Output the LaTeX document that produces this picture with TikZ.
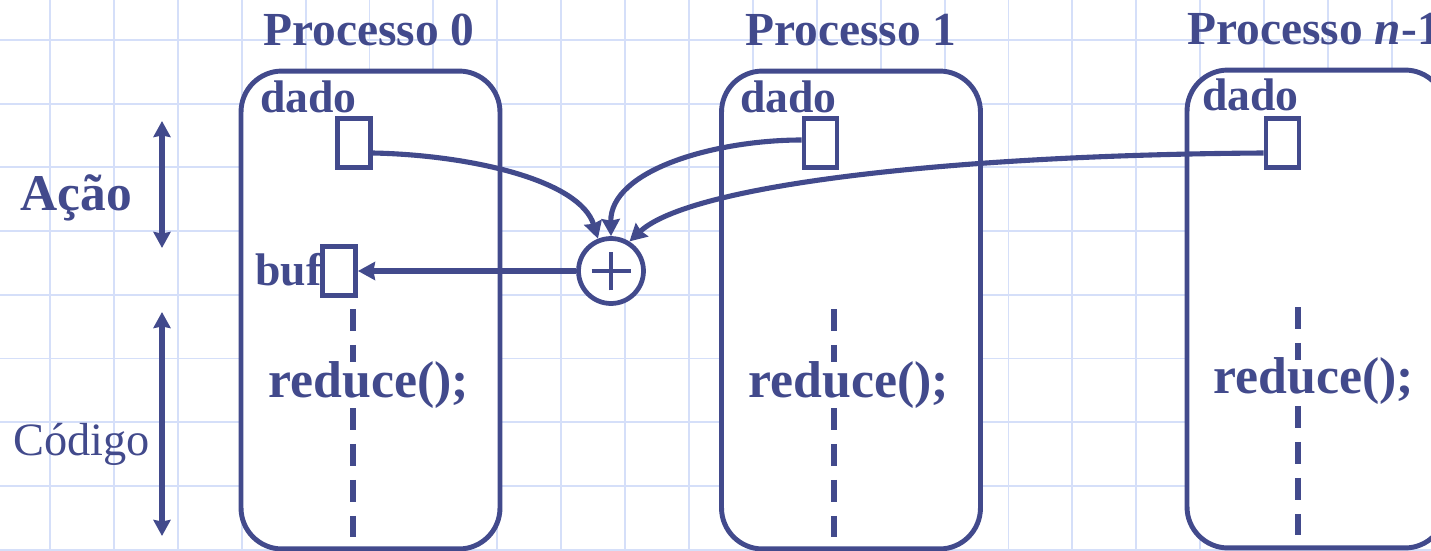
\documentclass[tikz,border=0pt]{standalone}
\usepackage{fontspec}
\setmainfont{Liberation Serif}
\usepackage{tikz}
\usetikzlibrary{arrows.meta,positioning,calc}
\usepackage{xcolor}
\definecolor{slideblue}{HTML}{424A8C}
\definecolor{slidegrid}{HTML}{D5DFF9}
\tikzset{
  gridline/.style={draw=slidegrid, line width=1.1pt},
  procbox/.style={draw=slideblue, line width=2.8pt, fill=white, rounded corners=0.82cm,
                  minimum width=5.18cm, minimum height=9.56cm},
  cell/.style={draw=slideblue, line width=2.8pt, fill=white, inner sep=0,
               minimum width=0.66cm, minimum height=0.98cm},
  sumop/.style={circle, draw=slideblue, line width=2.7pt, fill=white, minimum size=1.3cm,
                inner sep=0, path picture={
                  \draw[slideblue, line width=2.6pt]
                    (path picture bounding box.center) +(-0.39cm,0) -- +(0.39cm,0)
                    (path picture bounding box.center) +(0,-0.39cm) -- +(0,0.39cm);}},
  title/.style={text=slideblue, inner sep=0, anchor=base west,
                font=\fontsize{27}{30}\selectfont\bfseries},
  varname/.style={text=slideblue, inner sep=0, anchor=base west,
                  font=\fontsize{26}{28}\selectfont\bfseries},
  callcode/.style={text=slideblue, inner sep=0, anchor=base west,
                   font=\fontsize{29.5}{32}\selectfont\bfseries},
  side/.style={text=slideblue, inner sep=0, anchor=base west},
  flow/.style={-{Stealth[length=0.34cm,width=0.36cm,inset=0.03cm]}, line width=2.9pt, draw=slideblue},
  span/.style={{Stealth[length=0.32cm,width=0.34cm,inset=0.03cm]}-{Stealth[length=0.32cm,width=0.34cm,inset=0.03cm]},
               line width=3.2pt, draw=slideblue},
  thread/.style={draw=slideblue, line width=3.1pt, dash pattern=on 0.44cm off 0.28cm},
}

\begin{document}
\begin{tikzpicture}[x=0.02cm, y=-0.02cm]
\useasboundingbox (0,0) rectangle (1431,551);
\clip (0,0) rectangle (1431,551);
% squared paper
\foreach \i in {0,...,21}
  \draw[gridline] ({50+63.9*\i},0) -- ({50+63.9*\i},551);
\foreach \j in {0,...,8}
  \draw[gridline] (0,{40+63.7*\j}) -- (1431,{40+63.7*\j});

% processes
\node[procbox] (p0) at (370.5,310) {};
\node[procbox] (p1) at (851,310) {};
\node[procbox] (pn) at (1316.5,309) {};
\node[title] (t0) at (263,46) {Processo 0};
\node[title] (t1) at (745,46) {Processo 1};
\node[title] (tn) at (1187,44) {Processo \textit{n}-1};

% buffers
\node[varname] (v0) at (260,112) {dado};
\node[varname] (v1) at (740,112) {dado};
\node[varname] (vn) at (1202,110) {dado};
\node[cell] (d0) at (354,143) {};
\node[cell] (d1) at (820.5,143) {};
\node[cell] (dn) at (1282.5,143) {};
\node[varname] (vb) at (255,285) {buf};
\node[cell] (b0) at (339,271) {};
\node[sumop] (sum) at (611,271) {};

% code
\coordinate (c0a) at (353,309); \coordinate (c0b) at (353,362);
\coordinate (c0c) at (353,408); \coordinate (c0d) at (353,537);
\coordinate (c1a) at (834,309); \coordinate (c1b) at (834,362);
\coordinate (c1c) at (834,408); \coordinate (c1d) at (834,537);
\coordinate (cna) at (1298,307); \coordinate (cnb) at (1298,360);
\coordinate (cnc) at (1298,406); \coordinate (cnd) at (1298,535);
\draw[thread] (c0a) -- (c0b) (c0c) -- (c0d);
\draw[thread] (c1a) -- (c1b) (c1c) -- (c1d);
\draw[thread] (cna) -- (cnb) (cnc) -- (cnd);
\node[callcode] (r0) at (268,397) {reduce();};
\node[callcode] (r1) at (748,397) {reduce();};
\node[callcode] (rn) at (1213,393) {reduce();};

% reduction
\draw[flow] ([yshift=-0.2cm]d0.east) .. controls (470,155) and (580,180) .. (sum.112);
\draw[flow] ([yshift=0.06cm]d1.west) .. controls (715,140) and (610,170) .. (sum.north);
\draw[flow] ([yshift=-0.2cm]dn.west) .. controls (950,155) and (690,185) .. (sum.58);
\draw[flow] (sum.west) -- (b0.east);

% phases
\coordinate (acaoT) at (162,121); \coordinate (acaoB) at (162,248);
\coordinate (codT) at (162,312); \coordinate (codB) at (162,536);
\draw[span] (acaoT) -- (acaoB);
\draw[span] (codT) -- (codB);
\node[side, font=\fontsize{29.3}{32}\selectfont\bfseries] (acao) at (20,210) {Ação};
\node[side, font=\fontsize{26.4}{28}\selectfont] (codigo) at (13,455) {Código};
\end{tikzpicture}
\end{document}
